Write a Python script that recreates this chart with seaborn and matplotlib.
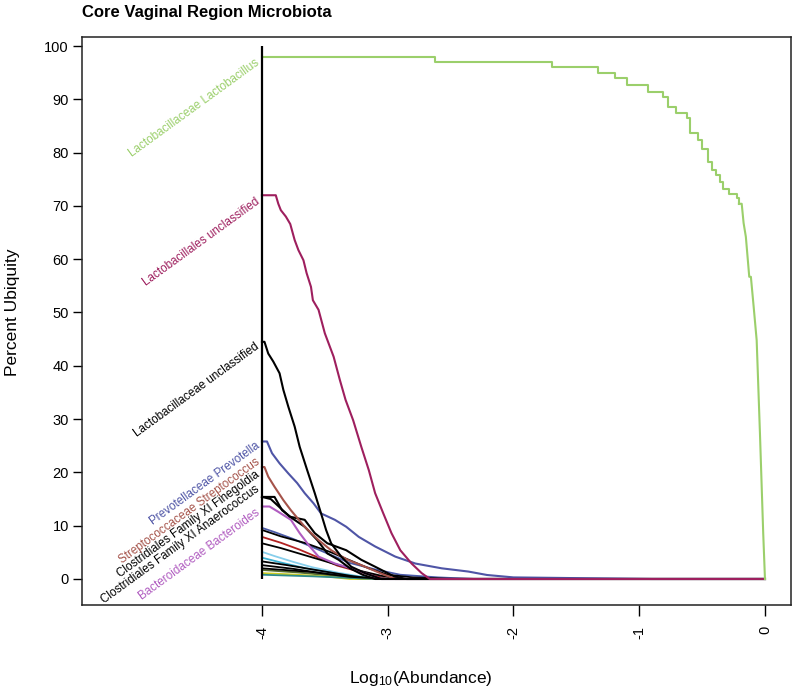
import matplotlib
matplotlib.use("Agg")
import matplotlib.pyplot as plt
import seaborn as sns

plt.rcParams['font.family'] = ['Liberation Sans', 'DejaVu Sans']
plt.rcParams['mathtext.default'] = 'regular'

# Core taxa: log10 abundance threshold vs percent ubiquity
# stepped upper part of Lactobacillus, then its steep tail
lacto_x = [-4.0, -2.62, -1.69, -1.33, -1.19, -1.10, -0.93, -0.81, -0.77, -0.71, -0.62, -0.60,
           -0.535, -0.50, -0.455, -0.42, -0.39, -0.36, -0.335, -0.29, -0.225, -0.207]
lacto_y = [98, 97, 96, 95, 94, 92.6, 91.4, 90.4, 88.5, 87.4, 86.5, 83.7,
           82.4, 80.7, 78.3, 76.7, 75.8, 74.4, 73.1, 72.2, 71.4, 70.4]
lacto_tail_x = [-0.207, -0.185, -0.170, -0.152, -0.125, -0.112, -0.090, -0.066, -0.040, -0.014, 0.0]
lacto_tail_y = [70.4, 70.4, 66.8, 64.2, 56.7, 56.7, 51.1, 44.8, 27.4, 8.6, 0]

lbunc_x = [-4.0, -3.89, -3.87, -3.85, -3.81, -3.775, -3.74, -3.71, -3.67, -3.645, -3.61, -3.595,
           -3.55, -3.50, -3.43, -3.38, -3.335, -3.275, -3.21, -3.15, -3.10, -3.035, -2.97,
           -2.90, -2.81, -2.73, -2.665, 0.0]
lbunc_y = [72, 72, 70.4, 69.2, 68, 66.6, 63.6, 61.7, 59.8, 57.4, 54.8, 52.3,
           50.5, 46.1, 41.7, 37.3, 33.6, 29.8, 24.8, 20.4, 16.1, 12.3, 8.6,
           5.4, 2.9, 1.1, 0, 0]

lcunc_x = [-4.0, -3.98, -3.95, -3.91, -3.86, -3.83, -3.79, -3.74, -3.70, -3.64, -3.58, -3.53,
           -3.49, -3.45, -3.37, -3.29, -3.18, -3.05, 0.0]
lcunc_y = [44.5, 44.5, 42.3, 40.8, 38.6, 35.5, 32.3, 28.6, 24.8, 20.4, 16.1, 12.3,
           9.2, 6.7, 4.2, 2.3, 1.1, 0, 0]

prev_x = [-4.0, -3.96, -3.92, -3.86, -3.79, -3.72, -3.66, -3.59, -3.53, -3.42, -3.33, -3.23,
          -3.10, -2.94, -2.78, -2.57, -2.36, -2.21, -2.0, -0.9, 0.0]
prev_y = [25.8, 25.8, 23.6, 21.7, 19.8, 18.0, 16.1, 14.2, 12.3, 11.1, 9.8, 7.9,
          6.1, 4.2, 2.9, 2.0, 1.4, 0.75, 0.3, 0, 0]

strep_x = [-4.0, -3.98, -3.95, -3.90, -3.83, -3.77, -3.66, -3.55, -3.45, -3.32, -3.18, -3.05, -2.94, 0.0]
strep_y = [21, 21, 19.2, 17.3, 14.8, 12.9, 9.8, 7.3, 5.4, 3.6, 2.3, 1.0, 0, 0]

fine_x = [-4.0, -3.90, -3.84, -3.76, -3.66, -3.56, -3.48, -3.39, -3.30, -3.20, -3.10, 0.0]
fine_y = [15.4, 15.4, 12.9, 11.4, 9.8, 7.3, 4.8, 3.6, 2.0, 0.8, 0, 0]

anae_x = [-4.0, -3.93, -3.78, -3.66, -3.58, -3.48, -3.33, -3.21, -3.10, -2.95, -2.85, 0.0]
anae_y = [15.4, 15.0, 11.7, 11.1, 8.6, 6.7, 5.4, 3.6, 2.3, 0.5, 0, 0]

bact_x = [-4.0, -3.94, -3.87, -3.77, -3.70, -3.62, -3.55, -3.42, -3.25, -3.05, 0.0]
bact_y = [13.6, 13.6, 12.6, 11.1, 8.6, 6.1, 4.2, 2.9, 1.7, 0, 0]

# Minor (unlabelled) taxa near the bottom
minor_series = [
    ('#4A5AA8', [-4.0, -3.90, -3.75, -3.60, -3.45, -3.30, -3.10, -2.90, -2.60, -2.3, 0.0],
                [9.6, 8.8, 7.5, 6.0, 4.5, 3.0, 1.8, 0.8, 0.3, 0, 0]),
    ('black',   [-4.0, -3.85, -3.65, -3.45, -3.30, -3.15, -3.0, -2.8, -2.5, 0.0],
                [9.2, 8.0, 6.7, 5.0, 3.5, 2.0, 0.8, 0.3, 0, 0]),
    ('#B22222', [-4.0, -3.85, -3.70, -3.55, -3.40, -3.20, -3.0, 0.0],
                [7.9, 6.8, 5.5, 4.0, 2.5, 1.2, 0, 0]),
    ('black',   [-4.0, -3.85, -3.65, -3.45, -3.25, -3.05, -2.9, 0.0],
                [6.7, 5.8, 4.4, 3.0, 1.7, 0.6, 0, 0]),
    ('#87CEEB', [-4.0, -3.9, -3.75, -3.6, -3.4, -3.2, -3.0, 0.0],
                [5.1, 4.3, 3.2, 2.2, 1.2, 0.4, 0, 0]),
    ('#3BB0D0', [-4.0, -3.85, -3.65, -3.4, -3.1, 0.0],
                [4.0, 3.1, 2.0, 1.0, 0, 0]),
    ('black',   [-4.0, -3.8, -3.55, -3.3, -3.1, 0.0],
                [3.3, 2.6, 1.6, 0.6, 0, 0]),
    ('black',   [-4.0, -3.75, -3.5, -3.2, 0.0],
                [2.6, 1.9, 1.0, 0, 0]),
    ('#556B2F', [-4.0, -3.7, -3.4, -3.2, 0.0],
                [1.7, 1.2, 0.5, 0, 0]),
    ('#CCCC22', [-4.0, -3.8, -3.5, -3.3, 0.0],
                [1.1, 0.9, 0.5, 0, 0]),
    ('#2E8B8B', [-4.0, -3.6, -3.3, -3.1, 0.0],
                [0.8, 0.5, 0.2, 0, 0]),
    ('black',   [-4.0, -3.6, -3.3, -3.0, 0.0],
                [2.0, 1.3, 0.4, 0, 0]),
]

label_names = ['Lactobacillaceae Lactobacillus', 'Lactobacillales unclassified',
               'Lactobacillaceae unclassified', 'Prevotellaceae Prevotella',
               'Streptococcaceae Streptococcus', 'Clostridiales Family XI Finegoldia',
               'Clostridiales Family XI Anaerococcus', 'Bacteroidaceae Bacteroides']
label_colors = ['#9BCF6B', '#9E1F5E', 'black', '#4F55A6', '#A5534A', 'black', 'black', '#B05CC0']
label_y = [97.0, 71.0, 43.8, 25.2, 22.2, 19.8, 17.0, 12.6]

x_ticks = [-4, -3, -2, -1, 0]
y_ticks = list(range(0, 101, 10))

fig = plt.figure(figsize=(7.95, 6.92), dpi=100)
ax = fig.add_axes([82 / 795, 1 - 605 / 692, (791 - 82) / 795, (605 - 37) / 692])

lw = 1.5
for col, xs, ys in minor_series:
    sns.lineplot(x=xs, y=ys, sort=False, estimator=None, color=col, lw=1.3, ax=ax)

sns.lineplot(x=bact_x, y=bact_y, sort=False, estimator=None, color='#B05CC0', lw=lw, ax=ax)
sns.lineplot(x=anae_x, y=anae_y, sort=False, estimator=None, color='black', lw=lw, ax=ax)
sns.lineplot(x=fine_x, y=fine_y, sort=False, estimator=None, color='black', lw=lw, ax=ax)
sns.lineplot(x=strep_x, y=strep_y, sort=False, estimator=None, color='#A5534A', lw=lw, ax=ax)
sns.lineplot(x=prev_x, y=prev_y, sort=False, estimator=None, color='#4F55A6', lw=lw, ax=ax)
sns.lineplot(x=lcunc_x, y=lcunc_y, sort=False, estimator=None, color='black', lw=lw, ax=ax)
sns.lineplot(x=lbunc_x, y=lbunc_y, sort=False, estimator=None, color='#9E1F5E', lw=lw, ax=ax)
sns.lineplot(x=lacto_x, y=lacto_y, sort=False, estimator=None, color='#9BCF6B', lw=lw,
             drawstyle='steps-post', ax=ax)
sns.lineplot(x=lacto_tail_x, y=lacto_tail_y, sort=False, estimator=None, color='#9BCF6B', lw=lw, ax=ax)

# threshold axis line at the lowest abundance
ax.vlines(min(x_ticks), 0, max(y_ticks), color='black', lw=1.6, zorder=5)

for name, col, yv in zip(label_names, label_colors, label_y):
    ax.text(min(x_ticks) - 0.03, yv, name, color=col, fontsize=8.4, rotation=36,
            rotation_mode='anchor', ha='right', va='center')

ax.set_xlim(-5.431, 0.207)
ax.set_ylim(-4.88, 101.69)
ax.set_xticks(x_ticks)
ax.set_xticklabels([str(t) for t in x_ticks], rotation=90, fontsize=10.5)
ax.set_yticks(y_ticks)
ax.set_yticklabels([str(t) for t in y_ticks], fontsize=10.5)
ax.tick_params(axis='x', direction='out', length=8, width=1, pad=7)
ax.tick_params(axis='y', direction='out', length=6.5, width=1, pad=3)
ax.set_xlabel('')
ax.set_ylabel('')
for s in ax.spines.values():
    s.set_linewidth(1.1)
    s.set_color('#222222')

fig.text(82 / 795, 1 - 13 / 692, 'Core Vaginal Region Microbiota', fontsize=12,
         fontweight='bold', ha='left', va='center')
fig.text(421 / 795, 1 - 678 / 692, 'Log$_{10}$(Abundance)', fontsize=12.5, ha='center', va='center')
fig.text(13 / 795, 1 - 312 / 692, 'Percent Ubiquity', fontsize=12.5, rotation=90,
         ha='center', va='center')

fig.savefig('out.png', dpi=100)
